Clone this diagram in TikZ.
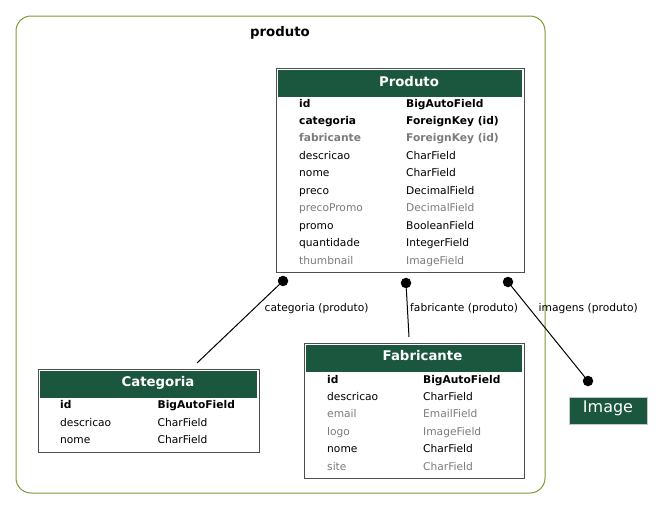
\documentclass[tikz,border=0pt]{standalone}
\usepackage{fontspec}
\setmainfont{DejaVu Sans}
\usepackage{tikz}

\definecolor{headgreen}{HTML}{1B563F}
\definecolor{clustergreen}{HTML}{7A9A35}
\definecolor{fieldgray}{HTML}{7B7B7B}
\definecolor{tableborder}{HTML}{4D4D4D}

\begin{document}
\begin{tikzpicture}[x=1pt,y=-1pt,
	tablebox/.style={draw=tableborder,line width=1.1pt,inner sep=0pt,anchor=north west},
	header/.style={fill=headgreen,inner sep=0pt,anchor=north west},
	title/.style={anchor=base,inner sep=0pt,text=white,font=\fontsize{13.3}{15}\selectfont\bfseries},
	field/.style={anchor=base west,inner sep=0pt,font=\fontsize{10.67}{12}\selectfont},
	keyfield/.style={field,font=\fontsize{10.67}{12}\selectfont\bfseries},
	grayfield/.style={field,text=fieldgray},
	graykey/.style={keyfield,text=fieldgray},
	rellabel/.style={anchor=base west,inner sep=0pt,font=\fontsize{10.67}{12}\selectfont},
	reldot/.style={circle,fill=black,inner sep=0pt,minimum size=10.5pt},
	relation/.style={line width=1pt}]

	\useasboundingbox (0,0) rectangle (663,509);

	% cluster
	\draw[clustergreen,line width=1pt,rounded corners=15pt] (16,16) rectangle (545,493);
	\node[anchor=base,inner sep=0pt,font=\fontsize{13.3}{15}\selectfont\bfseries] (produtolabel) at (280,36.5) {produto};

	% Produto
	\node[tablebox,minimum width=248pt,minimum height=204pt] (produto) at (276,68) {};
	\node[header,minimum width=244pt,minimum height=27pt] (produtohead) at (278,70) {};
	\node[title] (produtotitle) at (409,86.5) {Produto};
	\node[keyfield] (p1) at (299,107) {id};
	\node[keyfield] (p1t) at (406,107) {BigAutoField};
	\node[keyfield] (p2) at (299,124.45) {categoria};
	\node[keyfield] (p2t) at (406,124.45) {ForeignKey (id)};
	\node[graykey] (p3) at (299,141.9) {fabricante};
	\node[graykey] (p3t) at (406,141.9) {ForeignKey (id)};
	\node[field] (p4) at (299,159.35) {descricao};
	\node[field] (p4t) at (406,159.35) {CharField};
	\node[field] (p5) at (299,176.8) {nome};
	\node[field] (p5t) at (406,176.8) {CharField};
	\node[field] (p6) at (299,194.25) {preco};
	\node[field] (p6t) at (406,194.25) {DecimalField};
	\node[grayfield] (p7) at (299,211.7) {precoPromo};
	\node[grayfield] (p7t) at (406,211.7) {DecimalField};
	\node[field] (p8) at (299,229.15) {promo};
	\node[field] (p8t) at (406,229.15) {BooleanField};
	\node[field] (p9) at (299,246.6) {quantidade};
	\node[field] (p9t) at (406,246.6) {IntegerField};
	\node[grayfield] (p10) at (299,264.05) {thumbnail};
	\node[grayfield] (p10t) at (406,264.05) {ImageField};

	% Categoria
	\node[tablebox,minimum width=221pt,minimum height=83pt] (categoria) at (37.5,368.5) {};
	\node[header,minimum width=217pt,minimum height=27pt] (categoriahead) at (39.5,370.5) {};
	\node[title] (categoriatitle) at (158,386.7) {Categoria};
	\node[keyfield] (c1) at (60,408.5) {id};
	\node[keyfield] (c1t) at (157.5,408.5) {BigAutoField};
	\node[field] (c2) at (60,426) {descricao};
	\node[field] (c2t) at (157.5,426) {CharField};
	\node[field] (c3) at (60,443.5) {nome};
	\node[field] (c3t) at (157.5,443.5) {CharField};

	% Fabricante
	\node[tablebox,minimum width=220pt,minimum height=135pt] (fabricante) at (303.5,342.5) {};
	\node[header,minimum width=216pt,minimum height=27pt] (fabricantehead) at (305.5,344.5) {};
	\node[title] (fabricantetitle) at (422.5,360.7) {Fabricante};
	\node[keyfield] (f1) at (327,383) {id};
	\node[keyfield] (f1t) at (423,383) {BigAutoField};
	\node[field] (f2) at (327,400.45) {descricao};
	\node[field] (f2t) at (423,400.45) {CharField};
	\node[grayfield] (f3) at (327,417.9) {email};
	\node[grayfield] (f3t) at (423,417.9) {EmailField};
	\node[grayfield] (f4) at (327,435.35) {logo};
	\node[grayfield] (f4t) at (423,435.35) {ImageField};
	\node[field] (f5) at (327,452.8) {nome};
	\node[field] (f5t) at (423,452.8) {CharField};
	\node[grayfield] (f6) at (327,470.25) {site};
	\node[grayfield] (f6t) at (423,470.25) {CharField};

	% Image
	\node[fill=headgreen,draw=gray!45,inner sep=0pt,minimum width=78pt,minimum height=27pt] (image) at (608,410.5) {};
	\node[anchor=base,inner sep=0pt,text=white,font=\fontsize{16}{18}\selectfont] (imagetitle) at (608,412) {Image};

	% relations
	\node[reldot] (catdot) at (283,281) {};
	\node[reldot] (fabdot) at (406,283) {};
	\node[reldot] (imgdot) at (508,282) {};
	\node[reldot] (imgend) at (588,381) {};
	\coordinate (catend) at (197,363);
	\coordinate (fabend) at (409,337);

	\draw[relation] (catdot) -- (catend);
	\draw[relation] (fabdot) -- (fabend);
	\draw[relation] (imgdot) -- (imgend);

	\node[rellabel] (catlabel) at (264.5,311.5) {categoria (produto)};
	\node[rellabel] (fablabel) at (410,311.5) {fabricante (produto)};
	\node[rellabel] (imglabel) at (538.5,311.5) {imagens (produto)};

\end{tikzpicture}
\end{document}
